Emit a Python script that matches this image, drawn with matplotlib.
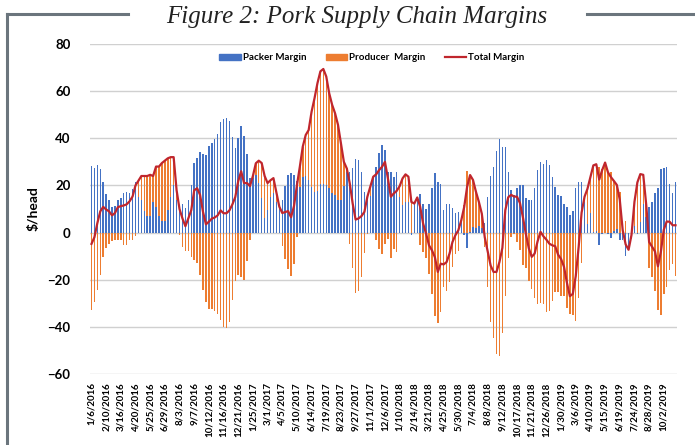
import numpy as np
import matplotlib
matplotlib.use("Agg")
import matplotlib.pyplot as plt
from matplotlib.lines import Line2D
from matplotlib.patches import Patch

# weekly margins ($/head), 1/6/2016 onward
packer = [
    28.2, 27.5, 28.5, 27.0, 21.3, 16.2, 14.0, 11.0, 11.3, 13.8,
    14.5, 16.9, 17.4, 16.6, 18.3, 21.6, 15.0, 14.0, 9.0, 7.0,
    7.0, 13.0, 11.0, 7.0, 5.0, 5.0, 9.5, 15.0, 20.0, 14.0,
    11.0, 12.0, 10.5, 14.0, 20.0, 29.4, 31.8, 34.0, 33.3, 33.0,
    36.9, 38.2, 39.7, 41.8, 46.7, 48.1, 48.8, 47.4, 40.7, 35.7,
    40.0, 45.0, 41.0, 33.2, 23.0, 23.0, 24.4, 21.1, 14.5, 6.0,
    9.5, 15.2, 16.6, 13.0, 11.0, 14.0, 19.7, 24.4, 25.1, 24.4,
    22.0, 19.4, 23.7, 24.0, 22.3, 19.4, 17.3, 17.7, 20.4, 20.4,
    20.1, 18.7, 16.6, 15.9, 13.8, 13.8, 19.7, 25.8, 25.8, 27.2,
    31.0, 30.8, 25.8, 17.3, 15.9, 15.5, 23.0, 28.0, 33.6, 37.2,
    35.0, 25.8, 25.8, 23.7, 25.8, 15.2, 11.6, 13.0, 13.0, -1.0,
    12.3, 14.5, 16.3, 12.0, 10.2, 12.0, 18.7, 25.1, 21.6, 20.6,
    9.5, 12.3, 12.0, 10.5, 8.1, 8.8, 5.2, -1.0, -6.5, 0.3,
    2.4, 2.0, 2.7, 2.0, 4.0, 15.2, 24.0, 28.0, 34.8, 39.7,
    36.2, 36.2, 25.8, 18.0, 15.9, 19.0, 20.1, 20.1, 14.5, 14.0,
    13.8, 19.0, 26.5, 30.0, 28.9, 30.8, 28.7, 23.7, 19.4, 15.9,
    15.5, 12.3, 10.9, 7.4, 9.0, 19.0, 21.6, 21.6, 13.0, 3.8,
    8.1, 0.3, 0.7, -5.4, -0.4, -0.1, -0.4, -2.1, 0.7, 1.7,
    -3.0, -3.0, -10.0, -6.0, 1.7, 2.8, -0.4, 4.5, 12.3, 6.7,
    10.9, 13.0, 16.6, 18.7, 26.8, 27.2, 27.7, 20.6, 16.6, 21.6,
]
producer = [
    -33.0, -29.5, -24.5, -18.0, -10.4, -6.4, -5.0, -3.7, -3.0, -3.0,
    -3.3, -5.4, -5.4, -3.3, -3.0, -1.6, 7.0, 10.0, 15.0, 17.0,
    17.5, 11.0, 17.0, 21.0, 24.5, 25.5, 22.0, 17.0, 12.0, 4.0,
    -1.0, -6.0, -7.8, -8.0, -10.5, -11.5, -13.0, -18.0, -24.5, -29.5,
    -32.3, -32.3, -33.3, -34.5, -37.3, -39.9, -40.6, -38.0, -28.8, -20.6,
    -18.2, -19.0, -20.0, -12.2, -3.3, 1.0, 5.0, 9.4, 15.0, 18.0,
    11.5, 7.0, 6.5, 4.0, 0.0, -5.7, -11.0, -15.3, -18.6, -13.2,
    -2.0, 8.6, 12.8, 17.4, 21.2, 31.9, 39.7, 45.7, 48.0, 49.0,
    46.1, 40.4, 37.6, 34.7, 31.9, 24.1, 10.3, 1.4, -4.9, -14.9,
    -25.5, -24.8, -18.8, -8.5, -0.7, 3.9, 0.7, -3.3, -7.1, -9.3,
    -5.0, -2.8, -10.6, -7.1, -8.1, 4.5, 11.4, 11.7, 10.7, 14.0,
    0.0, 0.4, -5.4, -8.2, -10.6, -17.4, -26.2, -35.5, -38.3, -33.8,
    -23.0, -24.8, -20.9, -14.5, -9.2, -7.8, 0.0, 11.9, 26.0, 24.1,
    19.9, 15.3, 10.3, 6.0, -6.0, -23.2, -38.0, -44.7, -51.5, -52.2,
    -42.7, -26.7, -10.8, -2.0, -0.6, -3.8, -7.6, -13.6, -15.0, -20.6,
    -24.1, -27.9, -30.2, -29.7, -30.5, -33.8, -33.4, -29.1, -25.2, -25.3,
    -26.7, -26.8, -32.2, -34.4, -35.0, -37.5, -27.6, -13.1, 2.2, 14.8,
    15.4, 28.2, 28.3, 27.9, 26.9, 29.8, 25.9, 25.6, 21.2, 18.5,
    17.0, 4.0, 5.0, -1.3, -2.7, 10.2, 21.7, 20.3, 12.2, 5.3,
    -14.9, -19.0, -24.6, -33.0, -35.0, -26.0, -23.0, -16.0, -13.5, -18.5,
]
total = [
    -4.8, -2.0, 4.0, 9.0, 10.9, 9.8, 9.0, 7.3, 8.3, 10.8,
    11.2, 11.5, 12.0, 13.3, 15.3, 20.0, 22.0, 24.0, 24.0, 24.0,
    24.5, 24.0, 28.0, 28.0, 29.5, 30.5, 31.5, 32.0, 32.0, 18.0,
    10.0, 6.0, 2.7, 6.0, 9.5, 17.9, 18.8, 16.0, 8.8, 3.5,
    4.6, 5.9, 6.4, 7.3, 9.4, 8.2, 8.2, 9.4, 11.9, 15.1,
    21.8, 26.0, 21.0, 21.0, 19.7, 24.0, 29.4, 30.5, 29.5, 24.0,
    21.0, 22.2, 23.1, 17.0, 11.0, 8.3, 8.7, 9.1, 6.5, 11.2,
    20.0, 28.0, 36.5, 41.4, 43.5, 51.3, 57.0, 63.4, 68.4, 69.4,
    66.2, 59.1, 54.2, 50.6, 45.7, 37.9, 30.0, 27.2, 20.9, 12.3,
    5.5, 6.0, 7.0, 8.8, 15.2, 19.4, 23.7, 24.7, 26.5, 27.9,
    30.0, 23.0, 15.2, 16.6, 17.7, 19.7, 23.0, 24.7, 23.7, 13.0,
    12.3, 14.9, 10.9, 3.8, -0.4, -5.4, -7.5, -10.4, -16.7, -13.2,
    -13.5, -12.5, -8.9, -4.0, -1.1, 1.0, 5.2, 10.9, 19.5, 24.4,
    22.3, 17.3, 13.0, 8.0, -2.0, -8.0, -14.0, -16.7, -16.7, -12.5,
    -6.5, 9.5, 15.0, 16.0, 15.3, 15.2, 12.5, 6.5, -0.5, -6.6,
    -10.3, -8.9, -3.7, 0.3, -1.6, -3.0, -4.7, -5.4, -5.8, -9.4,
    -11.2, -14.5, -21.3, -27.0, -26.0, -18.5, -6.0, 8.5, 15.2, 18.6,
    23.5, 28.5, 29.0, 22.5, 26.5, 29.7, 25.5, 23.5, 21.9, 20.2,
    14.0, 1.0, -5.0, -7.3, -1.0, 13.0, 21.3, 24.8, 24.5, 12.0,
    -4.0, -6.0, -8.0, -14.3, -8.2, 1.2, 4.7, 4.6, 3.1, 3.1,
]
tick_labels = [
    "1/6/2016", "2/10/2016", "3/16/2016", "4/20/2016", "5/25/2016",
    "6/29/2016", "8/3/2016", "9/7/2016", "10/12/2016", "11/16/2016",
    "12/21/2016", "1/25/2017", "3/1/2017", "4/5/2017", "5/10/2017",
    "6/14/2017", "7/19/2017", "8/23/2017", "9/27/2017", "11/1/2017",
    "12/6/2017", "1/10/2018", "2/14/2018", "3/21/2018", "4/25/2018",
    "5/30/2018", "7/4/2018", "8/8/2018", "9/12/2018", "10/17/2018",
    "11/21/2018", "12/26/2018", "1/30/2019", "3/6/2019", "4/10/2019",
    "5/15/2019", "6/19/2019", "7/24/2019", "8/28/2019", "10/2/2019",
]

blue = "#4472C4"
orange = "#ED7D31"
red = "#C0262D"

packer = np.array(packer)
producer = np.array(producer)
x = np.arange(len(packer))

# excel style stacking: positives stack up from 0, negatives stack down
prod_bottom = np.where(producer >= 0, np.clip(packer, 0, None), np.clip(packer, None, 0))

plt.rcParams["font.family"] = ["Lato", "DejaVu Sans"]

fig = plt.figure(figsize=(6.95, 4.45), dpi=100)
ax = fig.add_axes([90 / 695, 1 - 374 / 445, 587 / 695, 330 / 445])

ax.bar(x, packer, width=0.5, color=blue, zorder=2, linewidth=0)
ax.bar(x, producer, bottom=prod_bottom, width=0.5, color=orange, zorder=2, linewidth=0)
ax.plot(x, total, color=red, lw=1.6, zorder=3)

ax.set_xlim(-0.5, len(x) - 0.5)
ax.set_ylim(-60, 80)
ax.set_yticks(range(-60, 81, 20))
ax.yaxis.grid(True, color="#d0d0d0", lw=1, zorder=0)
ax.set_axisbelow(True)
for s in ax.spines.values():
    s.set_visible(False)
ax.tick_params(axis="both", length=0)
ax.tick_params(axis="y", pad=14)
for t in ax.get_yticklabels():
    t.set_fontweight("bold")
    t.set_fontsize(9.5)

ax.set_xticks(x[::5])
ax.set_xticklabels(tick_labels, rotation=90, fontsize=7, fontweight="bold", va="top")
ax.tick_params(axis="x", pad=6)

ax.set_ylabel("$/head", fontsize=10, fontweight="bold", labelpad=6)

handles = [
    Patch(color=blue, label="Packer Margin"),
    Patch(color=orange, label="Producer  Margin"),
    Line2D([], [], color=red, lw=1.6, label="Total Margin"),
]
leg = fig.legend(handles=handles, loc="center", bbox_to_anchor=(0.535, 1 - 58 / 445),
                 ncol=3, frameon=False, handlelength=2.2, handleheight=0.6,
                 columnspacing=2.0, handletextpad=0.2,
                 prop={"weight": "bold", "size": 7})

fig.text(357 / 695, 1 - 17 / 445, "Figure 2: Pork Supply Chain Margins",
         ha="center", va="center", fontsize=18, style="italic",
         family="Liberation Serif", color="#222222")

# frame around the figure
frame = "#6b757d"
fig.add_artist(Line2D([7 / 695, 7 / 695], [0, 1 - 14 / 445], color=frame, lw=2.2))
fig.add_artist(Line2D([7 / 695, 128 / 695], [1 - 14 / 445, 1 - 14 / 445], color=frame, lw=2.2))
fig.add_artist(Line2D([587 / 695, 1], [1 - 14 / 445, 1 - 14 / 445], color=frame, lw=2.2))

fig.savefig("out.png", dpi=100)
